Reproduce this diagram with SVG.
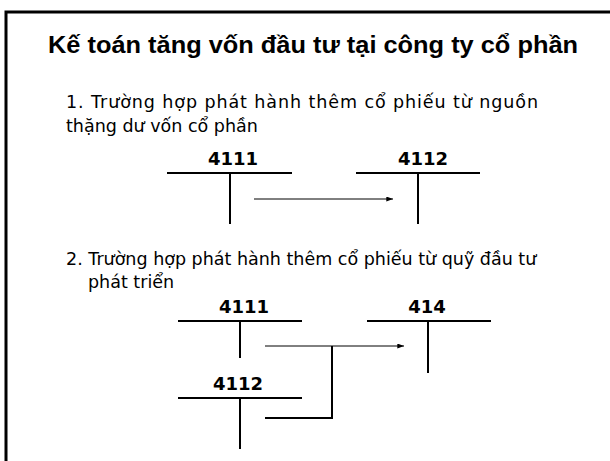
<svg xmlns="http://www.w3.org/2000/svg" width="610" height="461" viewBox="0 0 610 461">
  <style>
    .title { font-family: "Liberation Sans", Arial, sans-serif; font-weight: bold; font-size: 24px; fill: #000; }
    .body { font-family: "DejaVu Sans", Verdana, sans-serif; font-size: 17.5px; fill: #000; }
    .acct { font-family: "DejaVu Sans", Verdana, sans-serif; font-weight: bold; font-size: 18px; fill: #000; text-anchor: middle; }
    .tline { stroke: #000; stroke-width: 2; fill: none; }
    .flow { stroke: #000; stroke-width: 1; fill: none; }
    .frame { stroke: #000; stroke-width: 3; fill: none; }
  </style>
  <defs>
    <marker id="arrow" viewBox="0 0 8 6" refX="8" refY="3" markerWidth="7" markerHeight="5" markerUnits="userSpaceOnUse" orient="auto">
      <path d="M0,0 L8,3 L0,6 Z" fill="#000"/>
    </marker>
  </defs>

  <rect width="610" height="461" fill="#fff"/>

  <!-- slide frame: top and left edges -->
  <path class="frame" d="M6,461 V12 H610"/>

  <text class="title" x="48" y="53" textLength="530" lengthAdjust="spacingAndGlyphs">Kế toán tăng vốn đầu tư tại công ty cổ phần</text>

  <!-- case 1 -->
  <text class="body" x="66" y="108" textLength="472" lengthAdjust="spacing">1. Trường hợp phát hành thêm cổ phiếu từ nguồn</text>
  <text class="body" x="66" y="132">thặng dư vốn cổ phần</text>

  <g id="acct-1-4111">
    <text class="acct" x="233" y="165">4111</text>
    <path class="tline" d="M167,173 H292 M230,173 V224"/>
  </g>
  <g id="acct-1-4112">
    <text class="acct" x="423" y="165">4112</text>
    <path class="tline" d="M356,173 H480 M418,173 V224"/>
  </g>

  <!-- case 2 -->
  <text class="body" x="66" y="265">2. Trường hợp phát hành thêm cổ phiếu từ quỹ đầu tư</text>
  <text class="body" x="88" y="288">phát triển</text>

  <g id="acct-2-4111">
    <text class="acct" x="244" y="313">4111</text>
    <path class="tline" d="M178,321 H302 M240,321 V358"/>
  </g>
  <g id="acct-2-414">
    <text class="acct" x="427" y="313">414</text>
    <path class="tline" d="M367,321 H491 M428,321 V373"/>
  </g>
  <g id="acct-2-4112">
    <text class="acct" x="238" y="390">4112</text>
    <path class="tline" d="M178,398 H302 M240,398 V449"/>
  </g>

  <g id="connectors">
    <line class="flow" x1="254" y1="199" x2="393" y2="199" marker-end="url(#arrow)"/>
    <line class="flow" x1="265" y1="346" x2="404" y2="346" marker-end="url(#arrow)"/>
    <path class="tline" d="M265,418 H332 V346"/>
  </g>
</svg>
